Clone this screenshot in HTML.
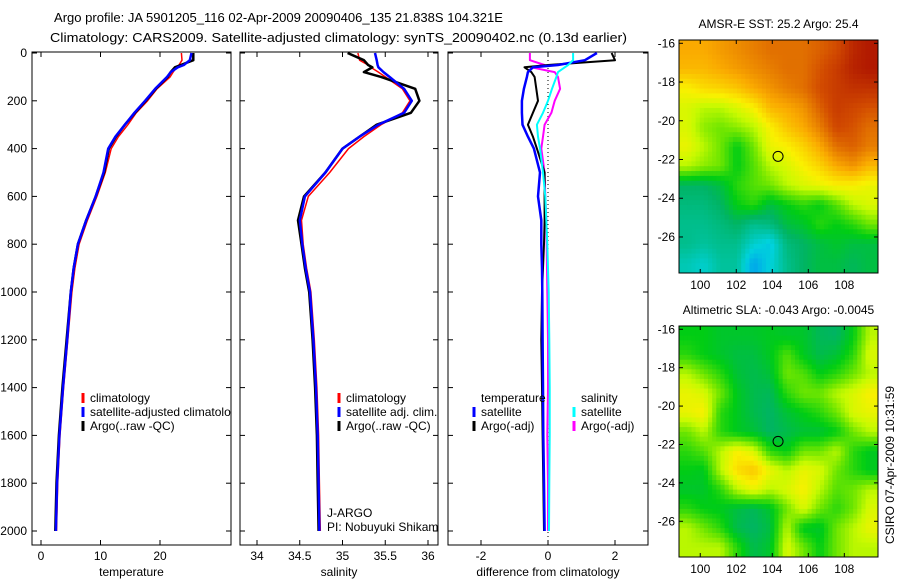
<!DOCTYPE html>
<html><head><meta charset="utf-8"><style>
html,body{margin:0;padding:0;background:#fff;}
svg{display:block;font-family:"Liberation Sans",Arial,sans-serif;}
text{font-size:12px;fill:#000;}
</style></head><body>
<svg id="fig" width="900" height="580" viewBox="0 0 900 580" xmlns="http://www.w3.org/2000/svg">
<text x="54" y="22" style="font-size:13px" textLength="449" lengthAdjust="spacingAndGlyphs">Argo profile: JA 5901205_116 02-Apr-2009 20090406_135 21.838S 104.321E</text>
<text x="50" y="42" style="font-size:13px" textLength="577" lengthAdjust="spacingAndGlyphs">Climatology: CARS2009. Satellite-adjusted climatology: synTS_20090402.nc (0.13d earlier)</text>
<g id="g1"></g>
<g id="g2"></g>
<g id="g3"></g>
<g id="m1"></g>
<g id="m2"></g>
<text transform="translate(894,465) rotate(-90)" text-anchor="middle">CSIRO 07-Apr-2009 10:31:59</text>
</svg>
<script>
// ---- data ----
const depths = [0,30,50,60,80,100,150,200,250,300,350,400,500,600,700,800,900,1000,1200,1400,1600,1800,2000];
const tempClim = [23.6,23.7,23.2,22.8,22.2,21.7,19.5,17.9,16.0,14.6,13.0,11.8,10.8,9.4,7.8,6.4,5.7,5.2,4.5,3.8,3.2,2.8,2.6];
const tempSat  = [25.3,25.0,24.0,23.0,21.8,21.2,19.2,17.5,15.7,14.1,12.5,11.3,10.5,9.2,7.6,6.2,5.5,5.0,4.4,3.7,3.1,2.7,2.5];
const tempArgo = [25.6,25.6,23.5,22.5,21.8,21.3,19.3,17.6,15.8,14.1,12.6,11.4,10.6,9.2,7.6,6.2,5.5,5.0,4.3,3.6,3.0,2.6,2.4];
const salClim = [35.18,35.2,35.3,35.33,35.42,35.5,35.7,35.79,35.7,35.45,35.25,35.07,34.85,34.6,34.52,34.54,34.58,34.63,34.67,34.7,34.72,34.73,34.74];
const salSat  = [35.38,35.4,35.41,35.42,35.48,35.55,35.72,35.81,35.72,35.42,35.2,35.0,34.8,34.56,34.5,34.53,34.57,34.62,34.66,34.69,34.71,34.72,34.73];
const salArgo = [35.06,35.25,35.3,35.35,35.25,35.45,35.85,35.9,35.8,35.4,35.2,35.0,34.8,34.55,34.48,34.52,34.56,34.61,34.65,34.68,34.70,34.71,34.72];
const dTempSat  = [1.46,1.1,0.3,-0.45,-0.6,-0.63,-0.72,-0.78,-0.78,-0.76,-0.6,-0.42,-0.24,-0.3,-0.2,-0.2,-0.18,-0.17,-0.16,-0.15,-0.14,-0.12,-0.1];
const dTempArgo = [1.9,2.0,0.0,-0.7,-0.5,-0.4,-0.35,-0.3,-0.45,-0.6,-0.45,-0.33,-0.1,-0.1,-0.1,-0.12,-0.15,-0.18,-0.2,-0.18,-0.16,-0.14,-0.12];
const dSalSat   = [0.75,0.75,0.6,0.5,0.3,0.25,0.12,0.0,-0.15,-0.33,-0.3,-0.24,-0.15,-0.08,-0.05,-0.02,0.0,0.02,0.04,0.05,0.05,0.04,0.03];
const dSalArgo  = [-0.54,-0.54,-0.1,-0.5,0.2,0.3,0.36,0.2,0.1,-0.1,-0.15,-0.2,-0.1,-0.08,-0.05,-0.04,-0.03,-0.02,0.0,0.0,-0.02,0.0,0.0];
const depthTicks = [0,200,400,600,800,1000,1200,1400,1600,1800,2000];
const tempTicks = [0,10,20];
const salTicks = [34,34.5,35,35.5,36];
const salTickLabels = ["34","34.5","35","35.5","36"];
const diffTicks = [-2,0,2];
const lonTicks = [100,102,104,106,108];
const latTicks = [-16,-18,-20,-22,-24,-26];
const sstGrid = [
[0.72,0.72,0.74,0.76,0.78,0.80,0.80,0.80,0.82,0.85,0.92,0.95],
[0.70,0.70,0.72,0.74,0.76,0.78,0.80,0.80,0.84,0.88,0.93,0.95],
[0.62,0.65,0.66,0.68,0.72,0.75,0.78,0.80,0.85,0.88,0.90,0.90],
[0.58,0.55,0.55,0.58,0.62,0.70,0.72,0.75,0.82,0.88,0.86,0.84],
[0.58,0.52,0.50,0.52,0.55,0.62,0.68,0.72,0.78,0.86,0.84,0.80],
[0.60,0.55,0.50,0.42,0.50,0.60,0.62,0.66,0.72,0.80,0.82,0.78],
[0.55,0.52,0.50,0.42,0.48,0.55,0.58,0.62,0.66,0.72,0.75,0.70],
[0.35,0.35,0.38,0.45,0.48,0.50,0.55,0.58,0.60,0.62,0.62,0.60],
[0.32,0.32,0.35,0.42,0.45,0.38,0.42,0.45,0.42,0.48,0.55,0.58],
[0.30,0.30,0.32,0.35,0.30,0.32,0.38,0.40,0.45,0.42,0.45,0.50],
[0.30,0.28,0.30,0.30,0.22,0.18,0.32,0.35,0.38,0.40,0.38,0.38],
[0.25,0.22,0.28,0.28,0.12,0.20,0.30,0.35,0.38,0.38,0.36,0.38]];
const slaGrid = [
[0.42,0.42,0.40,0.40,0.40,0.41,0.40,0.40,0.36,0.35,0.42,0.55],
[0.45,0.42,0.40,0.38,0.38,0.41,0.48,0.41,0.37,0.39,0.45,0.58],
[0.55,0.50,0.45,0.39,0.37,0.39,0.50,0.48,0.42,0.45,0.50,0.55],
[0.60,0.58,0.50,0.41,0.37,0.36,0.45,0.50,0.50,0.55,0.58,0.62],
[0.60,0.62,0.45,0.41,0.37,0.35,0.39,0.42,0.45,0.50,0.58,0.60],
[0.50,0.55,0.45,0.41,0.39,0.35,0.37,0.39,0.39,0.42,0.50,0.55],
[0.45,0.48,0.55,0.62,0.58,0.45,0.42,0.50,0.50,0.55,0.45,0.41],
[0.42,0.41,0.55,0.65,0.68,0.60,0.55,0.60,0.58,0.50,0.45,0.41],
[0.40,0.40,0.45,0.55,0.60,0.55,0.58,0.62,0.55,0.48,0.50,0.55],
[0.45,0.42,0.41,0.38,0.36,0.40,0.50,0.58,0.50,0.45,0.50,0.58],
[0.55,0.50,0.45,0.37,0.35,0.38,0.55,0.41,0.40,0.50,0.55,0.60],
[0.55,0.55,0.55,0.45,0.37,0.40,0.58,0.50,0.42,0.50,0.55,0.55]];
const argoLon = 104.321, argoLat = -21.838;

const NS='http://www.w3.org/2000/svg';
function mk(tag,attrs,parent){const e=document.createElementNS(NS,tag);for(const k in attrs)e.setAttribute(k,attrs[k]);parent.appendChild(e);return e;}
const Y0=53, PY=0.239, TOP=52, BOT=545;
const yD = p => Y0 + p*PY;

function panel(g,x0,x1,xOf,ticks,labels,xlabel,showY){
  const r=mk('rect',{x:x0,y:TOP,width:x1-x0,height:BOT-TOP,fill:'none',stroke:'#000','stroke-width':1},g);
  
  
  ticks.forEach((t,i)=>{const x=xOf(t);
    mk('line',{x1:x,x2:x,y1:BOT,y2:BOT-5,stroke:'#000'},g);
    mk('line',{x1:x,x2:x,y1:TOP,y2:TOP+5,stroke:'#000'},g);
    const tx=mk('text',{x:x,y:BOT+15,'text-anchor':'middle'},g);tx.textContent=labels[i];
    
    
  });
  depthTicks.forEach(d=>{const y=yD(d);
    mk('line',{x1:x0,x2:x0+5,y1:y,y2:y,stroke:'#000'},g);
    mk('line',{x1:x1,x2:x1-5,y1:y,y2:y,stroke:'#000'},g);
    if(showY){const t=mk('text',{x:x0-5,y:y+4,'text-anchor':'end'},g);t.textContent=d;
      
      }
  });
  const xl=mk('text',{x:(x0+x1)/2,y:576,'text-anchor':'middle'},g);xl.textContent=xlabel;
  
  
}
function series(g,xOf,vals,color,w,name,clip){
  const pts=depths.map((d,i)=>xOf(vals[i]).toFixed(1)+','+yD(d).toFixed(1)).join(' ');
  const l=mk('polyline',{points:pts,fill:'none',stroke:color,'stroke-width':w,'stroke-linejoin':'round','clip-path':clip},g);
  
  
}
function legend(g,x,y,color,label,name){
  mk('line',{x1:x,x2:x,y1:y-9,y2:y+1,stroke:color,'stroke-width':3},g);
  const t=mk('text',{x:x+7,y:y,'clip-path':'url(#cp'+name[0]+')'},g);t.textContent=label;
  
  
}
const defs=mk('defs',{},document.getElementById('fig'));
[[1,32,231],[2,240,438],[3,448,648]].forEach(([n,a,b])=>{const c=mk('clipPath',{id:'cp'+n},defs);mk('rect',{x:a,y:TOP,width:b-a,height:BOT-TOP},c);});

// Panel 1
const g1=document.getElementById('g1'); const xT=v=>41+v*5.95;
panel(g1,32,231,xT,tempTicks,tempTicks.map(String),'temperature',true);
series(g1,xT,tempClim,'#f00',1.5,'temp-climatology-line','url(#cp1)');
series(g1,xT,tempArgo,'#000',2.5,'temp-argo-line','url(#cp1)');
series(g1,xT,tempSat,'#00f',2.5,'temp-satellite-line','url(#cp1)');
legend(g1,83,402,'#f00','climatology','1-clim');
legend(g1,83,416,'#00f','satellite-adjusted climatology','1-sat');
legend(g1,83,430,'#000','Argo(..raw -QC)','1-argo');

// Panel 2
const g2=document.getElementById('g2'); const xS=v=>257+(v-34)*85.5;
panel(g2,240,438,xS,salTicks,salTickLabels,'salinity',false);
series(g2,xS,salClim,'#f00',1.5,'sal-climatology-line','url(#cp2)');
series(g2,xS,salArgo,'#000',2.5,'sal-argo-line','url(#cp2)');
series(g2,xS,salSat,'#00f',2.5,'sal-satellite-line','url(#cp2)');
legend(g2,339,402,'#f00','climatology','2-clim');
legend(g2,339,416,'#00f','satellite adj. clim.','2-sat');
legend(g2,339,430,'#000','Argo(..raw -QC)','2-argo');
const ja=mk('text',{x:327,y:517},g2);ja.textContent='J-ARGO';


const pi=mk('text',{x:327,y:531,'clip-path':'url(#cp2)'},g2);pi.textContent='PI: Nobuyuki Shikama';



// Panel 3
const g3=document.getElementById('g3'); const xDf=v=>548+v*33.5;
panel(g3,448,648,xDf,diffTicks,diffTicks.map(String),'difference from climatology',false);
const zl=mk('line',{x1:xDf(0),x2:xDf(0),y1:TOP,y2:BOT,stroke:'#000','stroke-dasharray':'1,3'},g3);


series(g3,xDf,dSalArgo,'#f0f',2,'sal-argo-diff-line','url(#cp3)');
series(g3,xDf,dTempArgo,'#000',2,'temp-argo-diff-line','url(#cp3)');
series(g3,xDf,dTempSat,'#00f',2.5,'temp-satellite-diff-line','url(#cp3)');
series(g3,xDf,dSalSat,'#0ff',2,'sal-satellite-diff-line','url(#cp3)');
const lt=mk('text',{x:481,y:402},g3);lt.textContent='temperature';


const ls=mk('text',{x:581,y:402},g3);ls.textContent='salinity';


legend(g3,474,416,'#00f','satellite','3-tsat');
legend(g3,474,430,'#000','Argo(-adj)','3-targo');
legend(g3,574,416,'#0ff','satellite','3-ssat');
legend(g3,574,430,'#f0f','Argo(-adj)','3-sargo');

// Maps
const stops=[[0,[0,100,255]],[0.2,[0,210,220]],[0.35,[0,180,100]],[0.42,[0,205,20]],[0.5,[110,230,0]],[0.56,[200,250,0]],[0.62,[250,240,0]],[0.72,[250,170,0]],[0.85,[210,75,0]],[1,[160,0,0]]];
function cmap(v){for(let i=1;i<stops.length;i++){if(v<=stops[i][0]){const [a,ca]=stops[i-1],[b,cb]=stops[i];const f=(v-a)/(b-a);return 'rgb('+ca.map((c,k)=>Math.round(c+(cb[k]-c)*f)).join(',')+')';}}return 'rgb(160,0,0)';}
function sample(grid,u,v){ // u,v in grid index space (cell centres)
  const nr=grid.length,nc=grid[0].length;
  u=Math.max(0,Math.min(nc-1,u));v=Math.max(0,Math.min(nr-1,v));
  const j=Math.min(nc-2,Math.floor(u)),i=Math.min(nr-2,Math.floor(v));const fu=u-j,fv=v-i;
  return grid[i][j]*(1-fu)*(1-fv)+grid[i][j+1]*fu*(1-fv)+grid[i+1][j]*(1-fu)*fv+grid[i+1][j+1]*fu*fv;
}
function map(id,grid,top,bot,title){
  const g=document.getElementById(id);const L=679,R=878;
  const lon0=98.82,lon1=109.87,lat0=-15.83,lat1=-27.86;
  const xL=v=>L+(v-lon0)/(lon1-lon0)*(R-L), yL=v=>top+(v-lat0)/(lat1-lat0)*(bot-top);
  const nr=grid.length,nc=grid[0].length,S=4,NR=nr*S,NC=nc*S;
  const cw=(R-L)/NC,ch=(bot-top)/NR;
  for(let i=0;i<NR;i++)for(let j=0;j<NC;j++){
    const val=sample(grid,(j+0.5)/S-0.5,(i+0.5)/S-0.5);
    const c=mk('rect',{x:(L+j*cw).toFixed(2),y:(top+i*ch).toFixed(2),width:(cw+0.5).toFixed(2),height:(ch+0.5).toFixed(2),fill:cmap(val)},g);
    
    
  }
  mk('rect',{x:L,y:top,width:R-L,height:bot-top,fill:'none',stroke:'#000'},g);
  lonTicks.forEach(t=>{const x=xL(t);mk('line',{x1:x,x2:x,y1:bot,y2:bot-4,stroke:'#000'},g);mk('line',{x1:x,x2:x,y1:top,y2:top+4,stroke:'#000'},g);
    const tx=mk('text',{x:x,y:bot+16,'text-anchor':'middle'},g);tx.textContent=t;
    
    });
  latTicks.forEach(t=>{const y=yL(t);mk('line',{x1:L,x2:L+4,y1:y,y2:y,stroke:'#000'},g);mk('line',{x1:R,x2:R-4,y1:y,y2:y,stroke:'#000'},g);
    const tx=mk('text',{x:L-4,y:y+4,'text-anchor':'end'},g);tx.textContent=t;
    
    });
  const ci=mk('circle',{cx:xL(argoLon),cy:yL(argoLat),r:5,fill:'none',stroke:'#000'},g);
  
  
  const tt=mk('text',{x:(L+R)/2,y:top-12,'text-anchor':'middle'},g);tt.textContent=title;
  
  
}
map('m1',sstGrid,40,273,'AMSR-E SST: 25.2 Argo: 25.4');
map('m2',slaGrid,326,557,'Altimetric SLA: -0.043 Argo: -0.0045');
</script>
</body></html>
